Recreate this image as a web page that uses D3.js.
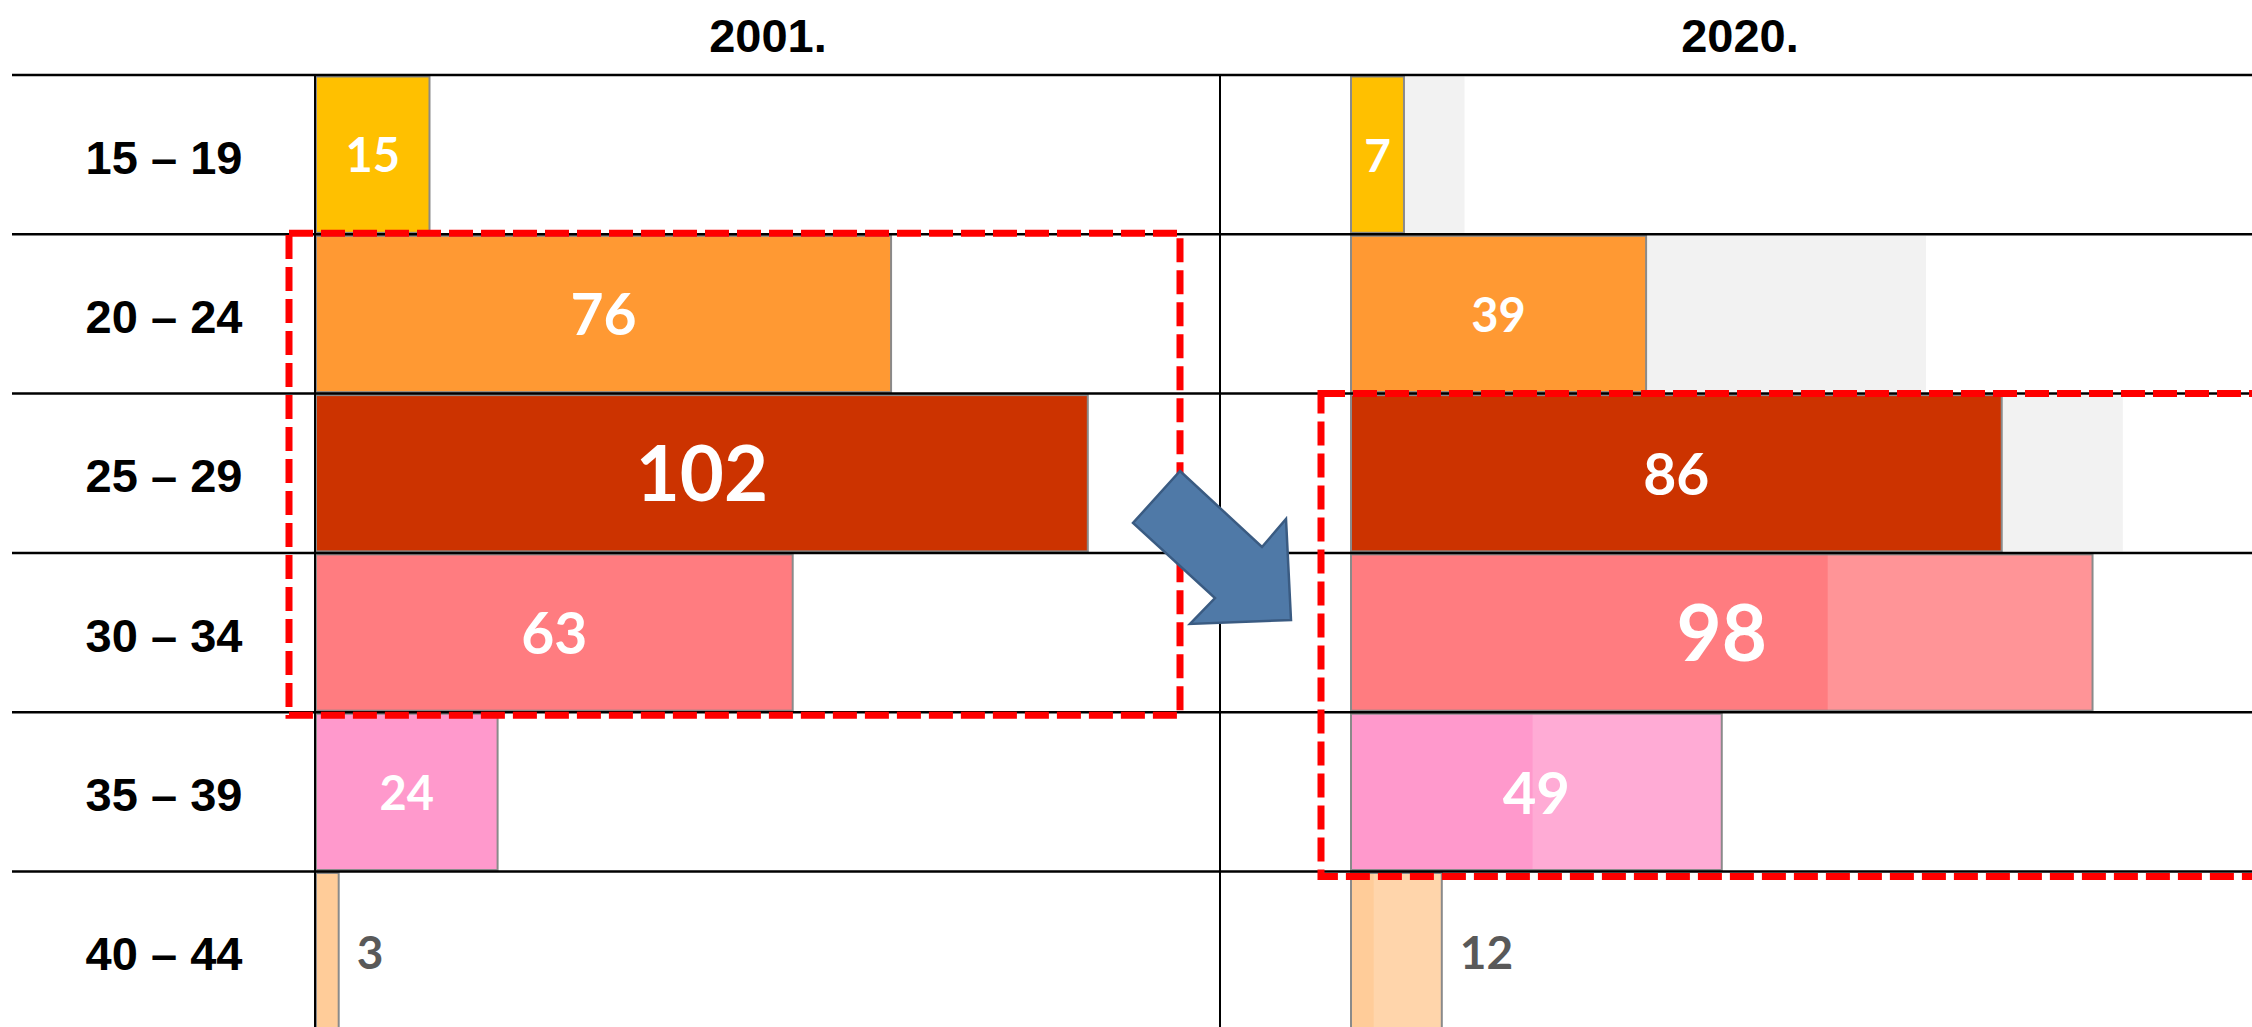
<!DOCTYPE html>
<html>
<head>
<meta charset="utf-8">
<script src="https://cdn.jsdelivr.net/npm/d3@7"></script>
<style>
  html, body { margin: 0; padding: 0; background: #fff; overflow: hidden; }
  .head, .cat { font-family: "Liberation Sans", Arial, sans-serif; font-weight: bold; font-size: 47px; fill: #000; }
  .val { font-family: Lato, "Open Sans", sans-serif; font-weight: bold; }
</style>
</head>
<body>
<svg id="chart"></svg>
<script>
// age groups and births per 1000 women
const ageGroups = ["15 – 19", "20 – 24", "25 – 29", "30 – 34", "35 – 39", "40 – 44"];
const rates2001 = [15, 76, 102, 63, 24, 3];
const rates2020 = [7, 39, 86, 98, 49, 12];
const years = ["2001.", "2020."];

// styling per age group
const barColors = ["#FFC000", "#FF9933", "#CC3300", "#FF7C80", "#FF99CC", "#FFCC99"];
const labelSize2001 = [47, 57, 76, 57, 47, 46];
const labelSize2020 = [46, 47, 57, 78, 58, 46];
const labelOutside = [false, false, false, false, false, true];

const W = 2252, H = 1027;
const svg = d3.select("#chart").attr("width", W).attr("height", H);

// layout
const rowTop = 75, rowH = 159.3;
const dividerX = 1220;
const panels = [
    { x0: 316, title: years[0], titleX: 768, values: rates2001, sizes: labelSize2001 },
    { x0: 1351, title: years[1], titleX: 1740, values: rates2020, sizes: labelSize2020 }
];

const y = d3.scaleBand()
    .domain(ageGroups)
    .range([rowTop, rowTop + rowH * ageGroups.length])
    .paddingInner(0).paddingOuter(0);

const x = d3.scaleLinear().domain([0, 120]).range([0, 908]);

// ghost bars in the 2020 panel show the 2001 values
const right = panels[1];
svg.append("g").selectAll("rect")
    .data(ageGroups)
  .enter().append("rect")
    .attr("x", right.x0)
    .attr("y", d => y(d) + 1.5)
    .attr("width", (d, i) => x(rates2001[i]))
    .attr("height", y.bandwidth() - 3)
    .style("fill", (d, i) => rates2001[i] > rates2020[i] ? "#F2F2F2" : barColors[i]);

// main bars
panels.forEach(function (p, pi) {
    const g = svg.append("g");

    g.selectAll("rect")
        .data(ageGroups)
      .enter().append("rect")
        .attr("x", p.x0)
        .attr("y", d => y(d) + 1.5)
        .attr("width", (d, i) => x(p.values[i]))
        .attr("height", y.bandwidth() - 3)
        .style("fill", (d, i) => barColors[i])
        .style("fill-opacity", (d, i) => (pi == 1 && rates2020[i] > rates2001[i]) ? 0.82 : 1)
        .style("stroke", "#8a8a8a")
        .style("stroke-width", "2px");

    g.selectAll("text")
        .data(ageGroups)
      .enter().append("text")
        .attr("class", "val")
        .attr("text-anchor", (d, i) => labelOutside[i] ? "start" : "middle")
        .attr("x", (d, i) => labelOutside[i] ? p.x0 + x(p.values[i]) + 18 : p.x0 + x(p.values[i]) / 2)
        .attr("y", (d, i) => y(d) + y.bandwidth() / 2 + 0.358 * p.sizes[i] + 1)
        .style("font-size", (d, i) => p.sizes[i] + "px")
        .style("fill", (d, i) => labelOutside[i] ? "#595959" : "#fff")
        .text((d, i) => p.values[i]);

    svg.append("text")
        .attr("class", "head")
        .attr("text-anchor", "middle")
        .attr("x", p.titleX)
        .attr("y", 52)
        .text(p.title);
});

// row labels
svg.append("g").selectAll("text")
    .data(ageGroups)
  .enter().append("text")
    .attr("class", "cat")
    .attr("text-anchor", "middle")
    .attr("x", 164)
    .attr("y", d => y(d) + y.bandwidth() / 2 + 19)
    .text(d => d);

// table rules
const rules = svg.append("g").style("stroke", "#000");
rules.selectAll("line.h")
    .data(ageGroups.map(d => y(d)).concat([y.range()[1]]))
  .enter().append("line")
    .attr("x1", 12).attr("x2", W)
    .attr("y1", d => d).attr("y2", d => d)
    .style("stroke-width", "2.5px");

[panels[0].x0 - 1, dividerX].forEach(function (vx) {
    rules.append("line")
        .attr("x1", vx).attr("x2", vx)
        .attr("y1", rowTop).attr("y2", H)
        .style("stroke-width", "2px");
});

// red dashed highlight boxes
function dashedBox(x1, x2, y1, y2) {
    svg.append("rect")
        .attr("x", x1).attr("y", y1)
        .attr("width", x2 - x1).attr("height", y2 - y1)
        .style("fill", "none")
        .style("stroke", "#FF0000")
        .style("stroke-width", "7px")
        .style("stroke-dasharray", "24 8");
}
dashedBox(panels[0].x0 - 27, 1180, y(ageGroups[1]) - 1, y(ageGroups[4]) + 3);
dashedBox(panels[1].x0 - 30, W + 20, y(ageGroups[2]), y(ageGroups[5]) + 5);

// block arrow from the 2001 box to the 2020 box
const arrowPts = [[1180, 471], [1262, 547], [1286, 519], [1291, 620], [1190, 624], [1215, 598], [1133, 523]];
svg.append("path")
    .attr("d", d3.line()(arrowPts) + "Z")
    .style("fill", "#4F79A7")
    .style("stroke", "#3A5B82")
    .style("stroke-width", "2.5px")
    .style("stroke-linejoin", "miter");
</script>
</body>
</html>
